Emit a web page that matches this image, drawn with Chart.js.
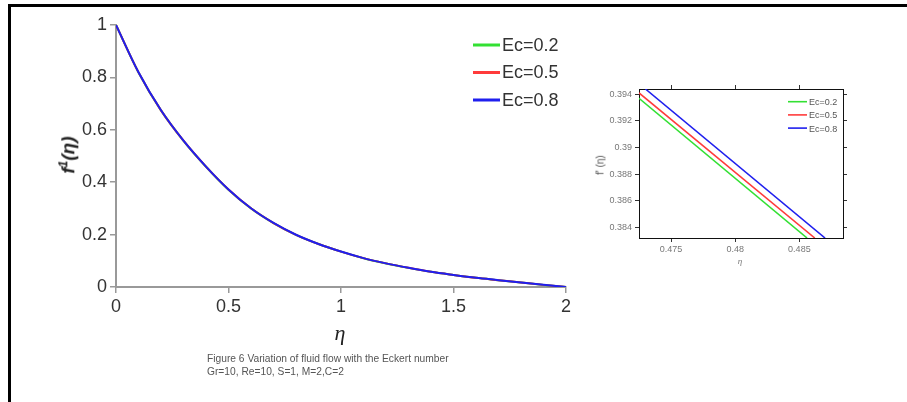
<!DOCTYPE html>
<html>
<head>
<meta charset="utf-8">
<script src="https://cdn.jsdelivr.net/npm/chart.js@4/dist/chart.umd.min.js"></script>
<style>
  body { margin: 0; background: #fff; }
  #wrap { position: relative; width: 907px; height: 402px; overflow: hidden; background: #fff; font-family: "Liberation Sans", Arial, sans-serif; }
  #frame { position: absolute; left: 8px; top: 4px; width: 1000px; height: 500px; border-left: 3px solid #000; border-top: 3px solid #000; }
  #mainChart { position: absolute; left: 0; top: 0; }
  #insetChart { position: absolute; left: 560px; top: 60px; }
  .lbl { position: absolute; white-space: nowrap; }
  #ytitle { left: 68px; top: 155px; transform: translate(-50%, -50%) rotate(-90deg); font: bold italic 19px "Liberation Sans", Arial, sans-serif; color: #222; }
  #xtitle { left: 340px; top: 333px; transform: translate(-50%, -50%); font: italic 22px "Liberation Serif", serif; color: #222; }
  #iytitle { left: 600px; top: 165px; transform: translate(-50%, -50%) rotate(-90deg); font: 10px "Liberation Sans", Arial, sans-serif; color: #555; }
  #ixtitle { left: 740px; top: 261px; transform: translate(-50%, -50%); font: italic 9px "Liberation Serif", serif; color: #777; }
  #caption { left: 207px; top: 352px; font: 11.5px "Liberation Sans", Arial, sans-serif; color: #555; line-height: 13px; transform: scaleX(0.89); transform-origin: 0 0; }
</style>
</head>
<body>
<div id="wrap">
  <div id="frame"></div>
  <canvas id="mainChart" width="600" height="402"></canvas>
  <canvas id="insetChart" width="300" height="220"></canvas>
  <div class="lbl" id="ytitle">f<sup style="font-size:12px">1</sup>(η)</div>
  <div class="lbl" id="xtitle">η</div>
  <div class="lbl" id="iytitle">f' (η)</div>
  <div class="lbl" id="ixtitle">η</div>
  <div class="lbl" id="caption">Figure 6 Variation of fluid flow with the Eckert number<br>Gr=10, Re=10, S=1, M=2,C=2</div>
</div>
<script>
Chart.defaults.animation = false;
Chart.defaults.font.family = '"Liberation Sans", Arial, sans-serif';

// velocity profiles f'(eta) for three Eckert numbers
var labels = ['Ec=0.2', 'Ec=0.5', 'Ec=0.8'];
var colors = ['#33e033', '#ff3b3b', '#1f1fee'];

var eta = [0, 0.1, 0.2, 0.3, 0.4, 0.5, 0.6, 0.7, 0.8, 0.9, 1.0, 1.1, 1.2, 1.3, 1.4, 1.5, 1.6, 1.7, 1.8, 1.9, 2.0];
var fEc02 = [1.0, 0.819, 0.674, 0.558, 0.459, 0.3715, 0.300, 0.244, 0.199, 0.164, 0.135, 0.110, 0.090, 0.073, 0.058, 0.046, 0.035, 0.026, 0.017, 0.008, 0.0];
var fEc05 = [1.0, 0.8192, 0.6743, 0.5583, 0.4593, 0.3719, 0.3003, 0.2442, 0.1992, 0.1641, 0.1351, 0.1101, 0.0901, 0.0731, 0.0581, 0.0461, 0.0351, 0.0261, 0.0171, 0.0081, 0.0];
var fEc08 = [1.0, 0.8194, 0.6746, 0.5586, 0.4596, 0.3723, 0.3006, 0.2444, 0.1994, 0.1642, 0.1352, 0.1102, 0.0902, 0.0732, 0.0582, 0.0462, 0.0352, 0.0262, 0.0172, 0.0082, 0.0];

var xTicks = [0, 0.5, 1, 1.5, 2];
var yTicks = [0, 0.2, 0.4, 0.6, 0.8, 1];

// close-up near eta = 0.48
var insetEtaEc02 = [0.4725, 0.4856];
var insetFEc02 = [0.3937, 0.3832];
var insetEtaEc05 = [0.4725, 0.4862];
var insetFEc05 = [0.3941, 0.3832];
var insetEtaEc08 = [0.4730, 0.4870];
var insetFEc08 = [0.3944, 0.3832];

var insetXTicks = ['0.475', '0.48', '0.485'];
var insetYTicks = ['0.384', '0.386', '0.388', '0.39', '0.392', '0.394'];

function pairs(xs, ys) {
  return xs.map(function (x, i) { return { x: x, y: ys[i] }; });
}

function fixTicks(values) {
  return function (scale) {
    scale.ticks = values.map(function (v) { return { value: +v }; });
  };
}

// draws a simple line-sample legend at fixed pixel positions
var lineLegend = {
  id: 'lineLegend',
  afterDraw: function (chart, args, opts) {
    var ctx = chart.ctx;
    ctx.save();
    chart.data.datasets.forEach(function (ds, i) {
      var y = opts.y + i * opts.dy;
      ctx.strokeStyle = ds.borderColor;
      ctx.lineWidth = opts.lineWidth;
      ctx.beginPath();
      ctx.moveTo(opts.x, y);
      ctx.lineTo(opts.x + opts.len, y);
      ctx.stroke();
      ctx.fillStyle = opts.color;
      ctx.font = opts.font;
      ctx.textBaseline = 'middle';
      ctx.fillText(ds.label, opts.x + opts.len + 2, y + 1);
    });
    ctx.restore();
  }
};

// later series are painted on top (Ec=0.8 last)
var mainSeries = [fEc02, fEc05, fEc08];
var mainCtx = document.getElementById('mainChart').getContext('2d');
var mainChart = new Chart(mainCtx, {
  type: 'line',
  data: {
    datasets: mainSeries.map(function (ys, i) {
      return {
        label: labels[i],
        data: pairs(eta, ys),
        borderColor: colors[i],
        borderWidth: 2,
        pointRadius: 0,
        order: mainSeries.length - i,
        cubicInterpolationMode: 'monotone'
      };
    })
  },
  options: {
    responsive: false,
    layout: { padding: { left: 0, top: 25, right: 34, bottom: 75 } },
    plugins: {
      legend: { display: false },
      tooltip: { enabled: false },
      lineLegend: { x: 473, y: 45, dy: 27.5, len: 27, lineWidth: 3, font: '18px "Liberation Sans", Arial, sans-serif', color: '#333' }
    },
    scales: {
      x: {
        type: 'linear', min: 0, max: 2,
        afterFit: function (s) { s.height = 40; },
        afterBuildTicks: fixTicks(xTicks),
        grid: { drawOnChartArea: false, tickLength: 6, color: '#999', lineWidth: 1.5 },
        border: { color: '#999', width: 2 },
        ticks: { color: '#333', font: { size: 18 }, padding: 3, maxRotation: 0, callback: function (v) { return String(v); } }
      },
      y: {
        type: 'linear', min: 0, max: 1,
        afterFit: function (s) { s.width = 116; },
        afterBuildTicks: fixTicks(yTicks),
        grid: { drawOnChartArea: false, tickLength: 6, color: '#999', lineWidth: 1.5 },
        border: { color: '#999', width: 2 },
        ticks: { color: '#333', font: { size: 18 }, padding: 3, callback: function (v) { return String(v); } }
      }
    }
  },
  plugins: [lineLegend]
});

var insetSeries = [pairs(insetEtaEc02, insetFEc02), pairs(insetEtaEc05, insetFEc05), pairs(insetEtaEc08, insetFEc08)];
var insetGrid = { drawOnChartArea: false, tickLength: 4, color: '#333', lineWidth: 1 };
var insetBorder = { color: '#111', width: 1 };
var insetCtx = document.getElementById('insetChart').getContext('2d');
var insetChart = new Chart(insetCtx, {
  type: 'line',
  data: {
    datasets: insetSeries.map(function (pts, i) {
      return {
        label: labels[i],
        data: pts,
        borderColor: colors[i],
        borderWidth: 1.6,
        pointRadius: 0
      };
    })
  },
  options: {
    responsive: false,
    layout: { padding: { left: 0, top: 29, right: 17, bottom: 17 } },
    plugins: {
      legend: { display: false },
      tooltip: { enabled: false },
      lineLegend: { x: 228, y: 41.7, dy: 13.2, len: 19, lineWidth: 1.6, font: '9px "Liberation Sans", Arial, sans-serif', color: '#555' }
    },
    scales: {
      x: {
        type: 'linear', min: 0.4725, max: 0.4884,
        afterFit: function (s) { s.height = 25; },
        afterBuildTicks: fixTicks(insetXTicks),
        grid: insetGrid, border: insetBorder,
        ticks: { color: '#777', font: { size: 9 }, padding: 2, maxRotation: 0, callback: function (v) { return String(+v.toFixed(4)); } }
      },
      x2: {
        type: 'linear', position: 'top', min: 0.4725, max: 0.4884,
        afterFit: function (s) { s.height = 0; },
        afterBuildTicks: fixTicks(insetXTicks),
        grid: insetGrid, border: insetBorder,
        ticks: { display: false }
      },
      y: {
        type: 'linear', min: 0.3832, max: 0.3944,
        afterFit: function (s) { s.width = 79; },
        afterBuildTicks: fixTicks(insetYTicks),
        grid: insetGrid, border: insetBorder,
        ticks: { color: '#777', font: { size: 9 }, padding: 3, callback: function (v) { return String(+v.toFixed(4)); } }
      },
      y2: {
        type: 'linear', position: 'right', min: 0.3832, max: 0.3944,
        afterFit: function (s) { s.width = 0; },
        afterBuildTicks: fixTicks(insetYTicks),
        grid: insetGrid, border: insetBorder,
        ticks: { display: false }
      }
    }
  },
  plugins: [lineLegend]
});
</script>
</body>
</html>
